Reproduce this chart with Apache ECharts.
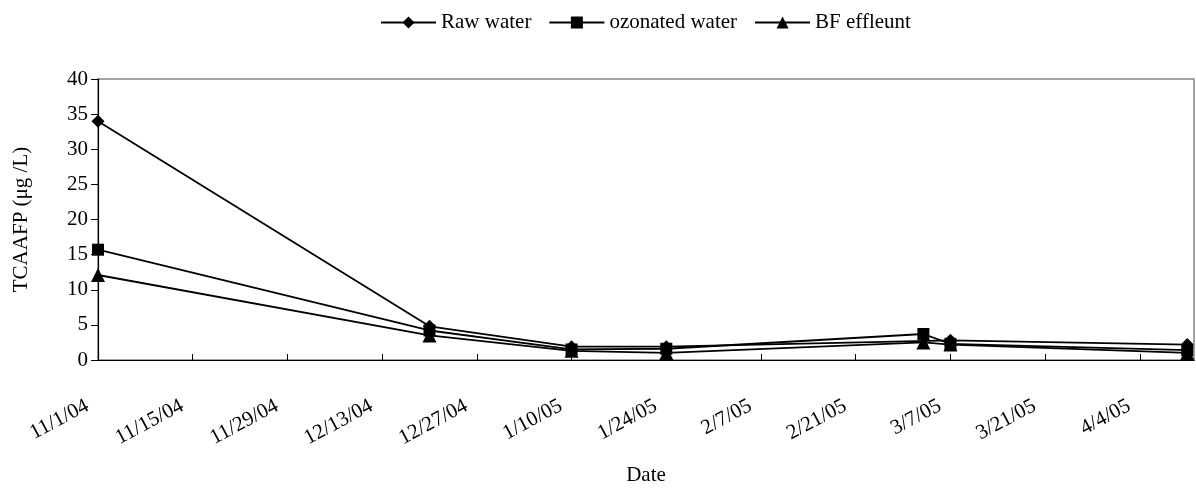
<!DOCTYPE html>
<html>
<head>
<meta charset="utf-8">
<script src="https://cdn.jsdelivr.net/npm/echarts@6/dist/echarts.min.js"></script>
<style>html,body{margin:0;padding:0;background:#fff}#c{width:1196px;height:491px}</style>
</head>
<body>
<div id="c"></div>
<script>
// Data
var dates = ['2004-11-01', '2004-12-20', '2005-01-10', '2005-01-24', '2005-03-03', '2005-03-07', '2005-04-11'];
var rawWater = [34.0, 4.8, 1.9, 1.9, null, 2.8, 2.2];
var ozonatedWater = [15.7, 4.2, 1.5, 1.6, 3.7, 2.3, 1.4];
var bfEffluent = [12.1, 3.5, 1.3, 1.0, 2.5, 2.2, 1.0];
var startDate = '2004-11-01';
var endDate = '2005-04-12';
var yTicks = [0, 5, 10, 15, 20, 25, 30, 35, 40];

var DAY = 86400000;
function dayNum(s) { return Math.round((Date.parse(s + 'T00:00:00Z') - Date.parse(startDate + 'T00:00:00Z')) / DAY); }
function fmt(d) {
  var t = new Date(Date.parse(startDate + 'T00:00:00Z') + d * DAY);
  return (t.getUTCMonth() + 1) + '/' + t.getUTCDate() + '/' + String(t.getUTCFullYear()).slice(2);
}
function pairs(vals) {
  return dates.map(function (d, i) { return [dayNum(d), vals[i]]; }).filter(function (p) { return p[1] !== null; });
}
var font = "'Liberation Serif', 'Times New Roman', serif";
var FS = 21;
var chart = echarts.init(document.getElementById('c'), null, { renderer: 'canvas' });
var lineStyle = { color: '#000', width: 1.8 };
chart.setOption({
  animation: false,
  textStyle: { fontFamily: font, color: '#000' },
  legend: {
    top: 7, left: 375, itemWidth: 55, itemHeight: 15, itemGap: 17,
    textStyle: { fontFamily: font, fontSize: FS, color: '#000' },
    data: ['Raw water', 'ozonated water', 'BF effleunt']
  },
  grid: { left: 98, right: 2, top: 79, bottom: 120, show: true, borderColor: '#858585', borderWidth: 1.5, containLabel: false },
  xAxis: {
    type: 'value', min: 0, max: dayNum(endDate), interval: 14,
    name: 'Date', nameLocation: 'middle', nameGap: 105,
    nameTextStyle: { fontFamily: font, fontSize: FS, color: '#000' },
    splitLine: { show: false },
    axisLine: { lineStyle: { color: '#000', width: 1.2 } },
    axisTick: { inside: true, length: 6, lineStyle: { color: '#000' } },
    axisLabel: {
      rotate: 28, margin: 39, padding: [0, 12, 0, 0], showMaxLabel: false, fontFamily: font, fontSize: FS, color: '#000',
      formatter: function (v) { return v % 14 === 0 ? fmt(v) : ''; }
    }
  },
  yAxis: {
    type: 'value', min: yTicks[0], max: yTicks[yTicks.length - 1], interval: yTicks[1] - yTicks[0],
    name: 'TCAAFP (μg /L)', nameLocation: 'middle', nameGap: 66,
    nameTextStyle: { fontFamily: font, fontSize: FS, color: '#000' },
    splitLine: { show: false },
    axisLine: { show: true, lineStyle: { color: '#000', width: 1.2 } },
    axisTick: { show: true, inside: false, length: 7, lineStyle: { color: '#000' } },
    axisLabel: { margin: 10, fontFamily: font, fontSize: FS, color: '#000' }
  },
  series: [
    { name: 'Raw water', type: 'line', data: pairs(rawWater), connectNulls: true, symbol: 'diamond', symbolSize: 13,
      lineStyle: lineStyle, itemStyle: { color: '#000' } },
    { name: 'ozonated water', type: 'line', data: pairs(ozonatedWater), symbol: 'rect', symbolSize: 12,
      lineStyle: lineStyle, itemStyle: { color: '#000' } },
    { name: 'BF effleunt', type: 'line', data: pairs(bfEffluent), symbol: 'triangle', symbolSize: 14,
      lineStyle: lineStyle, itemStyle: { color: '#000' } }
  ]
});
</script>
</body>
</html>
